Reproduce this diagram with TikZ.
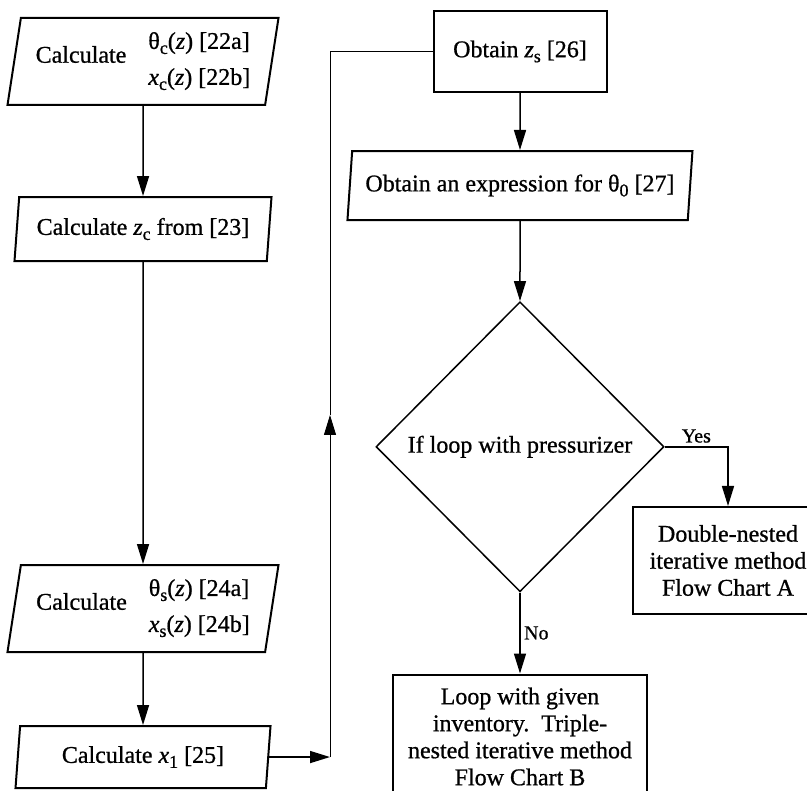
\documentclass[tikz,border=0pt]{standalone}
\usepackage{fontspec}
\setmainfont[FakeBold=0.8,AutoFakeBold=0.8]{Liberation Serif}
\usetikzlibrary{positioning}
\usetikzlibrary{shapes.geometric}
\usetikzlibrary{arrows.meta}
\newcommand{\lo}[1]{\raisebox{-5pt}{\fontsize{18}{18}\selectfont #1}}

\begin{document}
\begin{tikzpicture}[x=1pt,y=-1pt,>={Triangle[length=20pt,width=12pt]},
  font=\fontsize{24}{27}\selectfont\bfseries,
  slab/.style={trapezium,trapezium left angle=78,trapezium right angle=102,
    trapezium stretches body,draw,line width=2pt,inner sep=0pt},
  block/.style={rectangle,draw,line width=2pt,align=center,inner sep=0pt},
  choice/.style={diamond,draw,line width=1.5pt,inner sep=0pt},
  flow/.style={->,line width=1.5pt},
  loopline/.style={line width=1pt},
  tag/.style={font=\fontsize{20}{22}\selectfont\bfseries}]
\useasboundingbox (0,0) rectangle (807,791);

% left column
\node[slab,minimum width=271pt,minimum height=87pt] (c1) at (143,61.5)
  {\raisebox{5pt}{Calculate}\hspace{22pt}\begin{tabular}{@{}l@{}}θ\lo{c}(\textit{z}) [22a]\\[9pt]\textit{x}\lo{c}(\textit{z}) [22b]\end{tabular}};
\node[slab,minimum width=257pt,minimum height=64pt] (c2) [below=90pt of c1]
  {Calculate \textit{z}\lo{c} from [23]};
\node[slab,minimum width=271pt,minimum height=87pt] (c3) [below=302pt of c2]
  {\raisebox{5pt}{Calculate}\hspace{22pt}\begin{tabular}{@{}l@{}}θ\lo{s}(\textit{z}) [24a]\\[9pt]\textit{x}\lo{s}(\textit{z}) [24b]\end{tabular}};
\node[slab,minimum width=255pt,minimum height=62pt] (c4) [below=72pt of c3]
  {Calculate \textit{x}\lo{1} [25]};

% right column
\node[block,minimum width=173pt,minimum height=81pt] (zs) at (520,51.5)
  {Obtain \textit{z}\lo{s} [26]};
\node[slab,minimum width=345pt,minimum height=69pt] (th0) [below=57pt of zs]
  {Obtain an expression for θ\lo{0} [27]};
\node[choice,minimum width=288pt,minimum height=290pt] (dia) [below=80pt of th0]
  {If loop with pressurizer};
\node[block,minimum width=190pt,minimum height=107pt] (A) at (728,560.5)
  {Double-nested\\iterative method\\Flow Chart A};
\node[block,minimum width=254pt,minimum height=124pt] (B) [below=81pt of dia]
  {Loop with given\\inventory.\ \ Triple-\\nested iterative method\\Flow Chart B};

\coordinate (turn) at (330,0 |- c4.east);
\coordinate (rise) at (330,415);
\coordinate (top) at (330,0 |- zs.west);

\draw[flow] (c1) -- (c2);
\draw[flow] (c2) -- (c3);
\draw[flow] (c3) -- (c4);
\draw[flow] (c4.east) -- (turn);
\draw[flow,loopline] (turn) -- (rise);
\draw[loopline] (rise) -- (top) -- (zs.west);
\draw[flow] (zs) -- (th0);
\draw[flow] (th0) -- (dia);
\draw[flow] (dia.east) -| node[tag,pos=0.25,above] {Yes} (A.north);
\draw[flow] (dia.south) -- node[tag,right] {No} (B.north);
\end{tikzpicture}
\end{document}
